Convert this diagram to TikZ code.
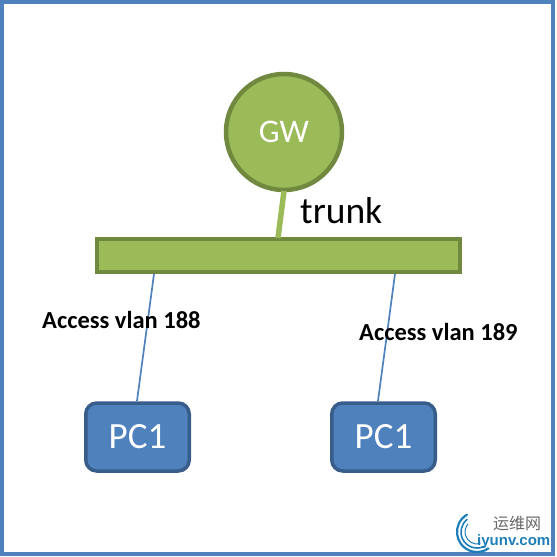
\documentclass[tikz,border=0pt]{standalone}
\usepackage{fontspec}
\setmainfont{Carlito}
\newfontfamily\cjk{Noto Sans CJK SC}
\newfontfamily\wmfont{Liberation Sans}
\usepackage{xcolor}
\usetikzlibrary{positioning,calc}
\definecolor{gwfill}{HTML}{9BBB59}
\definecolor{gwedge}{HTML}{71893F}
\definecolor{pcfill}{HTML}{4F81BD}
\definecolor{pcedge}{HTML}{385D8A}
\definecolor{markblue}{HTML}{1E7FB8}
\tikzset{
  pcbox/.style={draw=pcedge, fill=pcfill, line width=3.5pt, rounded corners=11pt, minimum width=103.5pt, minimum height=68pt, inner sep=0pt, text=white, font=\fontsize{37}{37}\selectfont},
  vlanlabel/.style={font=\fontsize{24.5}{26}\selectfont\bfseries, inner sep=0pt},
  accessline/.style={draw=pcfill, line width=1.7pt},
}
\begin{document}
\begin{tikzpicture}[x=1pt, y=-1pt]
\useasboundingbox (0,0) rectangle (557,557);
% frame
\draw[pcfill, line width=4pt] (2,2) rectangle (553,553.5);
% switch and gateway
\node[draw=gwedge, fill=gwfill, line width=4pt, minimum width=363pt, minimum height=33pt, inner sep=0pt] (sw) at (278,255.5) {};
\node[circle, draw=gwedge, fill=gwfill, line width=4.5pt, minimum size=116pt, inner sep=0pt, text=white, font=\fontsize{33}{33}\selectfont] (gw) at (284,132) {GW};
% hosts
\node[pcbox] (pca) at (137.5,437) {PC1};
\node[pcbox] (pcb) at (383.5,437) {PC1};
% connectors
\coordinate (swtop) at (278,238);
\coordinate (gwbot) at (284,191);
\coordinate (swa) at (154,274);
\coordinate (swb) at (395,274);
\coordinate (pcatop) at (137,401);
\coordinate (pcbtop) at (378,401);
\draw[gwfill, line width=5.5pt] (gwbot) -- (swtop);
\draw[accessline] (swa) -- (pcatop);
\draw[accessline] (swb) -- (pcbtop);
% labels
\node[anchor=west, inner sep=0pt, font=\fontsize{37.5}{38}\selectfont] (trunklbl) at (300,211) {trunk};
\node[vlanlabel, anchor=west] (vlana) at (42,320) {Access vlan 188};
\node[vlanlabel, anchor=west] (vlanb) at (359,332) {Access vlan 189};
% watermark
\foreach \r/\a/\b/\w in {20/55/240/2.2,16/65/232/1.6,12/75/222/1}
  \draw[markblue, line width=\w pt, line cap=round] (477,532) ++(\a:\r) arc (\a:\b:\r);
\node[anchor=west, inner sep=0pt, text=black!60, font=\cjk\fontsize{16}{16}\selectfont] (wmcn) at (493,523) {运维网};
\node[anchor=west, inner sep=0pt, text=markblue, font=\wmfont\bfseries\fontsize{15}{15}\selectfont] (wmen) at (477,541.5) {iyunv.com};
\end{tikzpicture}
\end{document}
